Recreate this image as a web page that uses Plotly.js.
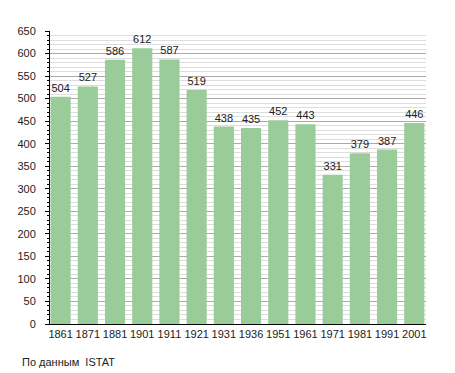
<!DOCTYPE html>
<html>
<head>
<meta charset="utf-8">
<script src="https://cdn.plot.ly/plotly-3.0.1.min.js"></script>
<style>html,body{margin:0;padding:0;background:#fff;}#chart{width:455px;height:373px;}</style>
</head>
<body>
<div id="chart"></div>
<script>
var years = ["1861","1871","1881","1901","1911","1921","1931","1936","1951","1961","1971","1981","1991","2001"];
var population = [504, 527, 586, 612, 587, 519, 438, 435, 452, 443, 331, 379, 387, 446];
var sourceNote = "По данным  ISTAT";

var trace = {
  type: 'bar',
  x: years,
  y: population,
  text: population.map(String),
  textposition: 'outside',
  cliponaxis: false,
  textfont: {family: 'Liberation Sans, Arial, sans-serif', size: 11, color: '#222'},
  marker: {color: '#99cc99', line: {width: 0}},
  width: 0.74,
  hoverinfo: 'x+y'
};

var layout = {
  width: 455,
  height: 373,
  margin: {l: 50, r: 29, t: 31, b: 49},
  paper_bgcolor: '#fff',
  plot_bgcolor: '#fff',
  showlegend: false,
  font: {family: 'Liberation Sans, Arial, sans-serif', size: 11, color: '#222'},
  xaxis: {
    type: 'category',
    range: [-0.39, 13.43],
    showline: true,
    linecolor: '#000',
    linewidth: 1,
    ticks: '',
    showgrid: false,
    zeroline: false,
    tickfont: {size: 11, color: '#222'}
  },
  yaxis: {
    range: [0, 650],
    dtick: 50,
    tick0: 0,
    showline: true,
    linecolor: '#000',
    linewidth: 1,
    ticks: 'outside',
    ticklen: 4,
    tickcolor: '#000',
    ticklabelstandoff: 7,
    showgrid: true,
    gridcolor: '#aaaaaa',
    gridwidth: 1,
    zeroline: false,
    tickfont: {size: 11, color: '#222'},
    minor: {
      dtick: 10,
      showgrid: true,
      gridcolor: '#dddddd',
      gridwidth: 1,
      ticks: 'outside',
      ticklen: 2,
      tickcolor: '#000'
    }
  },
  annotations: [{
    text: sourceNote,
    xref: 'paper', yref: 'paper',
    x: -0.08, y: -0.104,
    xanchor: 'left', yanchor: 'top',
    showarrow: false,
    font: {size: 11, color: '#222'}
  }]
};

Plotly.newPlot('chart', [trace], layout, {displayModeBar: false, staticPlot: true});
</script>
</body>
</html>
